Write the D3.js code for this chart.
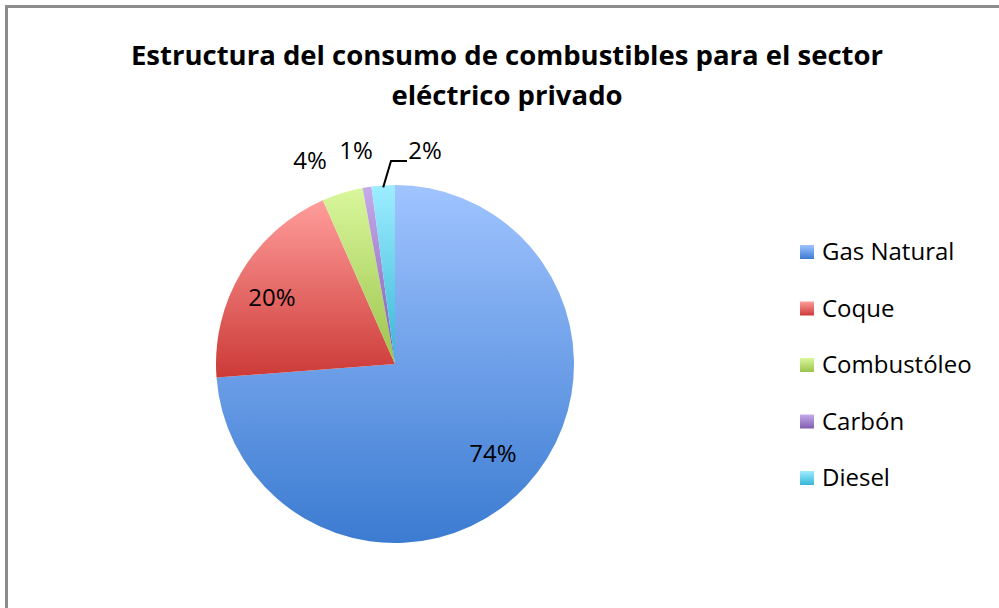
<!DOCTYPE html>
<html>
<head>
<meta charset="utf-8">
<script src="https://cdn.jsdelivr.net/npm/d3@7"></script>
<style>
  body { margin: 0; background: #fff; }
  svg { display: block; font-family: "Open Sans", sans-serif; }
</style>
</head>
<body>
<svg id="chart" width="999" height="608"></svg>
<script>
var categories = ["Gas Natural", "Coque", "Combustóleo", "Carbón", "Diesel"];
var values = [73.8, 19.6, 3.7, 0.8, 2.1];
var labels = ["74%", "20%", "4%", "1%", "2%"];
var lightColors = ["#a0c4ff", "#ff9d9b", "#d9f79c", "#c6abeb", "#9eedff"];
var darkColors = ["#3b7bd1", "#cc3a37", "#9cc34c", "#7f5cb0", "#36b6d6"];
var titleLines = ["Estructura del consumo de combustibles para el sector", "eléctrico privado"];

var svg = d3.select("#chart");

// frame of the chart area, cropped on the right and bottom
svg.append("path")
  .attr("d", "M6.5,608 L6.5,6.5 L999,6.5")
  .attr("fill", "none")
  .attr("stroke", "#8c8c8c")
  .attr("stroke-width", 3);

var defs = svg.append("defs");
categories.forEach(function(c, i){
  var g = defs.append("linearGradient")
    .attr("id", "grad" + i)
    .attr("x1", 0).attr("y1", 0)
    .attr("x2", 0).attr("y2", 1);
  g.append("stop").attr("offset", "0%").attr("stop-color", lightColors[i]);
  g.append("stop").attr("offset", "100%").attr("stop-color", darkColors[i]);
});

// title
svg.append("g").selectAll("text").data(titleLines).enter().append("text")
  .attr("x", 507)
  .attr("y", (d, i) => 65 + i * 40)
  .attr("text-anchor", "middle")
  .attr("font-weight", "bold")
  .attr("font-size", "27.5px")
  .attr("fill", "#000")
  .text(d => d);

var cx = 395, cy = 364, r = 179;

var pie = d3.pie().sort(null).value(d => d)(values);
var arc = d3.arc().innerRadius(0).outerRadius(r);

var pieG = svg.append("g").attr("transform", "translate(" + cx + "," + cy + ")");

pieG.selectAll("path").data(pie).enter().append("path")
  .attr("d", arc)
  .attr("fill", (d, i) => "url(#grad" + i + ")");

// data labels
var labelPos = [
  [493, 456], [272, 300], [310, 163], [356, 153], [425, 153]
];
svg.append("g").selectAll("text").data(labels).enter().append("text")
  .attr("x", (d, i) => labelPos[i][0])
  .attr("y", (d, i) => labelPos[i][1])
  .attr("text-anchor", "middle")
  .attr("dominant-baseline", "middle")
  .attr("font-size", "24px")
  .attr("fill", "#000")
  .text(d => d);

// leader line for the Diesel label
var dieselMid = d3.arc().innerRadius(r).outerRadius(r).centroid(pie[4]);
svg.append("path")
  .attr("d", "M" + (cx + dieselMid[0]) + "," + (cy + dieselMid[1] + 2) + " L391,161 L407,161")
  .attr("fill", "none")
  .attr("stroke", "#000")
  .attr("stroke-width", 2);

// legend
var legend = svg.append("g").attr("transform", "translate(800,252)");
var item = legend.selectAll("g").data(categories).enter().append("g")
  .attr("transform", (d, i) => "translate(0," + (i * 56.5) + ")");

item.append("rect")
  .attr("x", 0)
  .attr("y", -7)
  .attr("width", 14)
  .attr("height", 14)
  .attr("fill", (d, i) => "url(#grad" + i + ")");

item.append("text")
  .attr("x", 22)
  .attr("y", 2)
  .attr("dominant-baseline", "middle")
  .attr("font-size", "24px")
  .attr("fill", "#000")
  .text(d => d);
</script>
</body>
</html>
